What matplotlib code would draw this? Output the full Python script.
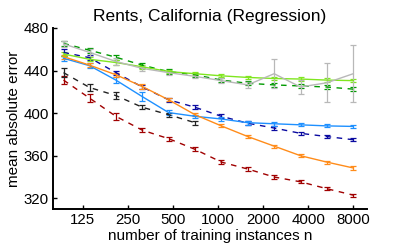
import matplotlib
matplotlib.use('Agg')
import matplotlib.pyplot as plt
from matplotlib.ticker import FixedLocator, NullLocator

plt.rcParams['font.family'] = ['Liberation Sans', 'DejaVu Sans']

# training set sizes
n = [93, 139, 208, 312, 468, 702, 1053, 1580, 2370, 3556, 5333, 8000]

red = [431, 414, 397, 384, 376, 366, 354, 347.5, 340, 335.5, 329, 323]
red_err = [4, 4, 3, 2, 2, 2, 2, 1.5, 1.5, 1.5, 1.5, 1.5]

black = [438, 424, 416.5, 405.5, 398.5, 391]
black_err = [4, 3.5, 3, 2, 2, 2]

navy = [457, 452, 438, 424.5, 412.5, 405.5, 397, 390.5, 386, 381, 378, 375]
navy_err = [3, 2.5, 2, 2, 2, 2, 2, 2, 2, 1.5, 1.5, 1.5]

blue = [451.5, 444.5, 431, 415.5, 400.5, 397, 394.5, 391, 390, 389, 388, 387.5]
blue_err = [2.5, 2.5, 2.5, 4, 2, 1.5, 2, 2, 2, 1.5, 1.5, 1.5]

orange = [453, 445, 436, 425, 412.5, 398.5, 388, 378, 369, 360, 354, 348.5]
orange_err = [2, 2, 2, 2, 1.5, 1.5, 1.5, 1.5, 1.5, 1.5, 1.5, 1.5]

green = [465.5, 459, 452.5, 445, 439, 436, 431, 428, 426.5, 425.5, 424.5, 422.5]
green_err = [2.5, 2.5, 2.5, 2.5, 2, 2, 2, 2, 2, 2, 2, 2]

lgreen = [455.5, 450.5, 447.5, 443.5, 439, 437, 435, 433.5, 432.5, 432, 431, 430.5]
lgreen_err = [2, 2, 2, 2, 1.5, 1.5, 1.5, 1.5, 1.5, 1.5, 1.5, 1.5]

gray = [465, 457, 448.5, 442, 438, 434.5, 430.5, 426.5, 437, 424.5, 428.5, 437]
gray_err = [3, 3, 3, 2.5, 2, 2, 2, 3, 13.5, 6.5, 18.5, 26.5]

xticks = [125, 250, 500, 1000, 2000, 4000, 8000]
yticks = [320, 360, 400, 440, 480]

fig = plt.figure(figsize=(4.07, 2.47), dpi=100)
ax = fig.add_axes([0.130, 0.154, 0.772, 0.733])

def draw(y, e, c, ls):
    m = len(y)
    ax.errorbar(n[:m], y, yerr=e, color=c, lw=1.0, capsize=2.2, elinewidth=0.9,
                capthick=0.9, dashes=(4, 4) if ls == '--' else (None, None))

draw(red, red_err, '#a00000', '--')
draw(black, black_err, '#222222', '--')
draw(navy, navy_err, '#0a0aa0', '--')
draw(blue, blue_err, '#1e90ff', '-')
draw(orange, orange_err, '#ff8c1a', '-')
draw(green, green_err, '#009a00', '--')
draw(lgreen, lgreen_err, '#80e620', '-')
draw(gray, gray_err, '#b8b8b8', '-')

ax.set_xscale('log', base=2)
ax.set_xlim(79, 9900)
ax.set_ylim(310, 480)
ax.xaxis.set_major_locator(FixedLocator(xticks))
ax.xaxis.set_minor_locator(NullLocator())
ax.set_xticklabels([str(t) for t in xticks])
ax.set_yticks(yticks)

for s in ['top', 'right']:
    ax.spines[s].set_visible(False)
for s in ['left', 'bottom']:
    ax.spines[s].set_linewidth(1.4)
ax.tick_params(direction='in', length=3, width=1.0, labelsize=10.8, pad=3)

ax.set_xlabel('number of training instances n', fontsize=11, labelpad=1)
ax.set_ylabel('mean absolute error', fontsize=11, labelpad=2)
ax.set_title('Rents, California (Regression)', fontsize=12.5, pad=5)

fig.savefig('out.png', dpi=100)
